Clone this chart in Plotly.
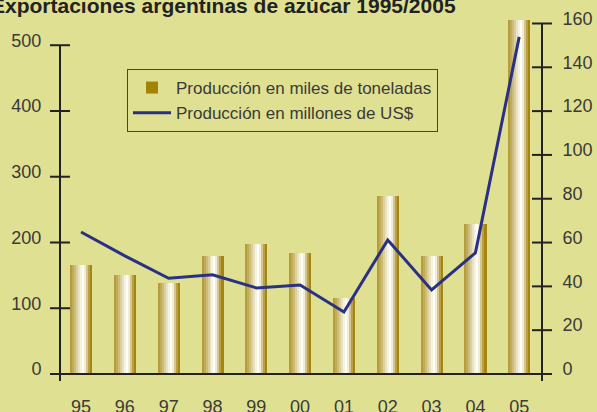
import plotly.graph_objects as go

# ---- data ----
anios = ["95", "96", "97", "98", "99", "00", "01", "02", "03", "04", "05"]
miles_toneladas = [166, 151, 139, 180, 198, 184, 116, 271, 180, 228, 538]
millones_usd = [64.8, 53.9, 43.7, 45.3, 39.3, 40.6, 28.3, 61.2, 38.4, 55.3, 153.9]
ticks_izq = [0, 100, 200, 300, 400, 500]
ticks_der = [0, 20, 40, 60, 80, 100, 120, 140, 160]

# ---- style ----
BG = "#dfe092"
AX = "#222222"
TXT = "#3a3a3a"
FONT = "Liberation Sans, Arial, sans-serif"
ML, MR, MT, MB = 60, 55, 18, 38
W, H = 597, 412
PW, PH = W - ML - MR, H - MT - MB
BAR_W = 0.5
DARK = (160, 128, 6)
LIGHT = (255, 255, 250)
profile = [0.22, 0.34, 0.47, 0.62, 0.77, 0.9, 1.0, 0.85, 0.55, 0.25, 0.04]


def mix(f):
    return "rgb(%d,%d,%d)" % tuple(round(d + f * (l - d)) for d, l in zip(DARK, LIGHT))


fig = go.Figure()
fig.add_trace(go.Bar(
    x=anios, y=miles_toneladas, name="Producción en miles de toneladas",
    marker=dict(color="#a38306", line=dict(width=0)), width=BAR_W, offset=-BAR_W / 2,
    yaxis="y",
))
n = len(profile)
sw = BAR_W / n
for i, f in enumerate(profile):
    fig.add_trace(go.Bar(
        x=anios, y=miles_toneladas, showlegend=False, hoverinfo="skip",
        marker=dict(color=mix(f), line=dict(width=0)),
        width=sw * 1.08, offset=-BAR_W / 2 + i * sw, yaxis="y",
    ))
fig.add_trace(go.Scatter(
    x=anios, y=millones_usd, name="Producción en millones de US$",
    mode="lines", line=dict(color="#2a3185", width=3), yaxis="y2",
))

shapes = []
line = dict(color=AX, width=2)
# bottom axis line with extensions
shapes.append(dict(type="line", xref="paper", yref="paper", x0=0, x1=1, y0=0, y1=0, line=line))
for xa, a, b in [(0, -10, 0), (1, 0, 10)]:
    shapes.append(dict(type="line", xref="paper", yref="paper", xsizemode="pixel", xanchor=xa,
                       x0=a, x1=b, y0=0, y1=0, line=line))
# vertical axis lines
shapes.append(dict(type="line", xref="paper", yref="y", x0=0, x1=0, y0=0, y1=ticks_izq[-1], line=line))
shapes.append(dict(type="line", xref="paper", yref="y2", x0=1, x1=1, y0=0, y1=ticks_der[-1], line=line))
for xa in (0, 1):
    shapes.append(dict(type="line", xref="paper", yref="paper", ysizemode="pixel", yanchor=0,
                       x0=xa, x1=xa, y0=-7, y1=0, line=line))
# crossing ticks
for v in ticks_izq[1:]:
    shapes.append(dict(type="line", xref="paper", yref="y", xsizemode="pixel", xanchor=0,
                       x0=-10, x1=10, y0=v, y1=v, line=line))
for v in ticks_der[1:]:
    shapes.append(dict(type="line", xref="paper", yref="y2", xsizemode="pixel", xanchor=1,
                       x0=-10, x1=10, y0=v, y1=v, line=line))

axis_common = dict(showline=False, showgrid=False, zeroline=False, automargin=False,
                   ticks="outside", ticklen=10, tickcolor="rgba(0,0,0,0)",
                   tickfont=dict(family=FONT, size=18, color=TXT))

fig.update_layout(
    template="none",
    width=W, height=H, margin=dict(l=ML, r=MR, t=MT, b=MB, pad=0, autoexpand=False),
    paper_bgcolor=BG, plot_bgcolor=BG,
    barmode="overlay", bargap=0,
    font=dict(family=FONT, size=18, color=TXT),
    shapes=shapes,
    showlegend=True,
    legend=dict(
        x=(127 - ML) / PW, y=1 - (69 - MT) / PH, xanchor="left", yanchor="top",
        bgcolor="rgba(0,0,0,0)", bordercolor="#444444", borderwidth=1,
        font=dict(family=FONT, size=17, color=TXT), tracegroupgap=0, itemwidth=38,
    ),
    xaxis=dict(type="category", range=[-0.48, 10.52], ticklabelstandoff=6, **axis_common),
    yaxis=dict(range=[0, 541.4], tickvals=ticks_izq, ticklabelstandoff=4, ticklabelshift=-5,
               **axis_common),
    yaxis2=dict(range=[0, 162.5], tickvals=ticks_der, overlaying="y", side="right",
                ticklabelstandoff=6, ticklabelshift=-5, **axis_common),
    annotations=[dict(
        text="Exportaciones argentinas de azúcar 1995/2005", showarrow=False,
        xref="paper", yref="paper", x=(-11 - ML) / PW, y=1 + (MT - 5.5) / PH,
        xanchor="left", yanchor="middle",
        font=dict(family=FONT, size=21, color="#222222", weight="bold"),
    )],
)

fig.write_html("out.html", config={"displayModeBar": False},
               post_script="document.body.style.margin='0';")
